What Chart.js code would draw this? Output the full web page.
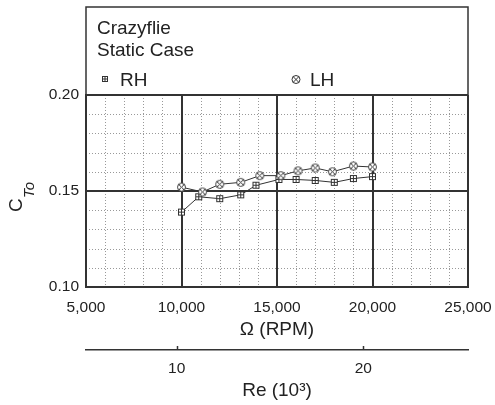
<!DOCTYPE html>
<html>
<head>
<meta charset="utf-8">
<script src="https://cdn.jsdelivr.net/npm/chart.js@4.4.0/dist/chart.umd.min.js"></script>
<style>
  body { margin: 0; background: #fff; }
</style>
</head>
<body>
<canvas id="graphique" width="495" height="405"></canvas>
<script>
// valeurs
const rhRpm = [10000, 10900, 12000, 13100, 13900, 15100, 16000, 17000, 18000, 19000, 20000];
const rhCt = [0.139, 0.147, 0.146, 0.148, 0.153, 0.156, 0.156, 0.1555, 0.1545, 0.1565, 0.1575];
const lhRpm = [10000, 11100, 12000, 13100, 14100, 15200, 16100, 17000, 17900, 19000, 20000];
const lhCt = [0.152, 0.1495, 0.1535, 0.1545, 0.158, 0.158, 0.1605, 0.162, 0.16, 0.163, 0.1625];

const rpmTicks = [5000, 10000, 15000, 20000, 25000];
const ctTicks = [0.10, 0.15, 0.20];
const reTicks = [10, 20];
const titres = ["Crazyflie", "Static Case"];
const noms = ["RH", "LH"];

const police = "'Liberation Sans', Arial, sans-serif";
const fonce = "#333";
const texte = "#222";

function dessinerCarre(ctx, x, y, d) {
    ctx.fillStyle = "#fff";
    ctx.strokeStyle = fonce;
    ctx.lineWidth = 1;
    ctx.fillRect(x - d, y - d, 2 * d, 2 * d);
    ctx.strokeRect(x - d, y - d, 2 * d, 2 * d);
    ctx.beginPath();
    ctx.moveTo(x - d, y); ctx.lineTo(x + d, y);
    ctx.moveTo(x, y - d); ctx.lineTo(x, y + d);
    ctx.stroke();
}

function dessinerRond(ctx, x, y, r) {
    ctx.fillStyle = "#fff";
    ctx.strokeStyle = fonce;
    ctx.lineWidth = 1;
    ctx.beginPath();
    ctx.arc(x, y, r, 0, Math.PI * 2);
    ctx.fill();
    ctx.stroke();
    const k = r * 0.7;
    ctx.beginPath();
    ctx.moveTo(x - k, y - k); ctx.lineTo(x + k, y + k);
    ctx.moveTo(x - k, y + k); ctx.lineTo(x + k, y - k);
    ctx.stroke();
}

function marqueur(f, taille, d) {
    const c = document.createElement("canvas");
    c.width = taille;
    c.height = taille;
    f(c.getContext("2d"), taille / 2, taille / 2, d);
    return c;
}

const carre = marqueur(dessinerCarre, 9, 3);
const rond = marqueur(dessinerRond, 11, 4);

// grille pointillée (tous les 1000 tr/min et 0.01)
const grilleFine = {
    id: "grilleFine",
    beforeDraw(chart) {
        const ctx = chart.ctx;
        const a = chart.chartArea;
        const sx = chart.scales.x, sy = chart.scales.y;
        ctx.save();
        ctx.strokeStyle = "#999";
        ctx.lineWidth = 1;
        ctx.setLineDash([1, 2]);
        for (let v = 6000; v < 25000; v += 1000) {
            if (v % 5000 === 0) continue;
            const px = Math.round(sx.getPixelForValue(v)) + 0.5;
            ctx.beginPath(); ctx.moveTo(px, a.top); ctx.lineTo(px, a.bottom); ctx.stroke();
        }
        for (let i = 1; i < 10; i++) {
            if (i === 5) continue;
            const py = Math.round(sy.getPixelForValue(0.10 + i * 0.01)) + 0.5;
            ctx.beginPath(); ctx.moveTo(a.left, py); ctx.lineTo(a.right, py); ctx.stroke();
        }
        ctx.restore();
    }
};

// boite du haut avec titre et légende
const boiteLegende = {
    id: "boiteLegende",
    beforeDraw(chart) {
        const ctx = chart.ctx;
        const a = chart.chartArea;
        ctx.save();
        ctx.strokeStyle = fonce;
        ctx.lineWidth = 1.5;
        ctx.strokeRect(a.left, 7, a.right - a.left, a.top - 7);
        ctx.fillStyle = texte;
        ctx.font = "19px " + police;
        ctx.textBaseline = "alphabetic";
        ctx.fillText(titres[0], a.left + 11, 34);
        ctx.fillText(titres[1], a.left + 11, 56);
        ctx.fillText(noms[0], a.left + 34, 86);
        ctx.fillText(noms[1], a.left + 224, 86);
        dessinerCarre(ctx, a.left + 19, 79, 2.5);
        dessinerRond(ctx, a.left + 210, 79.5, 4);
        ctx.restore();
    }
};

// titre de l'axe y avec indice
const titreY = {
    id: "titreY",
    afterDraw(chart) {
        const ctx = chart.ctx;
        ctx.save();
        ctx.translate(0, 212);
        ctx.rotate(-Math.PI / 2);
        ctx.fillStyle = texte;
        ctx.font = "19px " + police;
        ctx.fillText("C", 0, 22);
        ctx.font = "italic 15px " + police;
        ctx.fillText("To", 14, 34);
        ctx.restore();
        // petits traits de l'axe Re
        const re = chart.scales.re;
        ctx.save();
        ctx.strokeStyle = fonce;
        ctx.lineWidth = 1.5;
        reTicks.forEach(v => {
            const px = Math.round(re.getPixelForValue(v)) + 0.5;
            ctx.beginPath(); ctx.moveTo(px, re.top); ctx.lineTo(px, re.top - 4); ctx.stroke();
        });
        ctx.restore();
    }
};

function creerGraphique() {
    const tickFont = { family: police, size: 15.5 };
    const titleFont = { family: police, size: 19 };
    new Chart(document.getElementById("graphique"), {
        type: "line",
        data: {
            datasets: [{
                label: noms[1],
                data: lhRpm.map((x, i) => ({ x: x, y: lhCt[i] })),
                borderColor: fonce,
                borderWidth: 1,
                pointStyle: rond
            }, {
                label: noms[0],
                data: rhRpm.map((x, i) => ({ x: x, y: rhCt[i] })),
                borderColor: fonce,
                borderWidth: 1,
                pointStyle: carre
            }]
        },
        options: {
            responsive: false,
            animation: false,
            events: [],
            layout: { padding: { top: 95, right: 27, left: 0, bottom: 0 } },
            plugins: {
                legend: { display: false },
                tooltip: { enabled: false }
            },
            scales: {
                x: {
                    type: "linear",
                    min: 5000,
                    max: 25000,
                    afterBuildTicks: s => { s.ticks = rpmTicks.map(v => ({ value: v })); },
                    afterFit: s => { s.height = 63; s.paddingLeft = 0; s.paddingRight = 0; },
                    ticks: { callback: v => v.toLocaleString("en-US"), font: tickFont, color: texte, padding: 11 },
                    grid: { color: fonce, lineWidth: 2, drawTicks: false },
                    border: { color: fonce, width: 2 },
                    title: { display: true, text: "Ω (RPM)", font: titleFont, color: texte, padding: { top: 0, bottom: 9 } }
                },
                re: {
                    type: "linear",
                    position: "bottom",
                    weight: 1,
                    min: 5.14,
                    max: 25.61,
                    afterBuildTicks: s => { s.ticks = reTicks.map(v => ({ value: v })); },
                    afterFit: s => { s.height = 55; s.paddingLeft = 0; s.paddingRight = 0; },
                    ticks: { font: tickFont, color: texte, padding: 9 },
                    grid: { display: false, drawTicks: false },
                    border: { display: true, color: fonce, width: 1.5 },
                    title: { display: true, text: "Re (10³)", font: titleFont, color: texte, padding: { top: 0, bottom: 3 } }
                },
                y: {
                    min: 0.10,
                    max: 0.20,
                    afterBuildTicks: s => { s.ticks = ctTicks.map(v => ({ value: v })); },
                    afterFit: s => { s.width = 86; s.paddingTop = 0; s.paddingBottom = 0; },
                    ticks: { callback: v => v.toFixed(2), font: tickFont, color: texte, padding: 7 },
                    grid: { color: fonce, lineWidth: 2, drawTicks: false },
                    border: { color: fonce, width: 2 }
                }
            }
        },
        plugins: [grilleFine, boiteLegende, titreY]
    });
}

creerGraphique();
</script>
</body>
</html>
